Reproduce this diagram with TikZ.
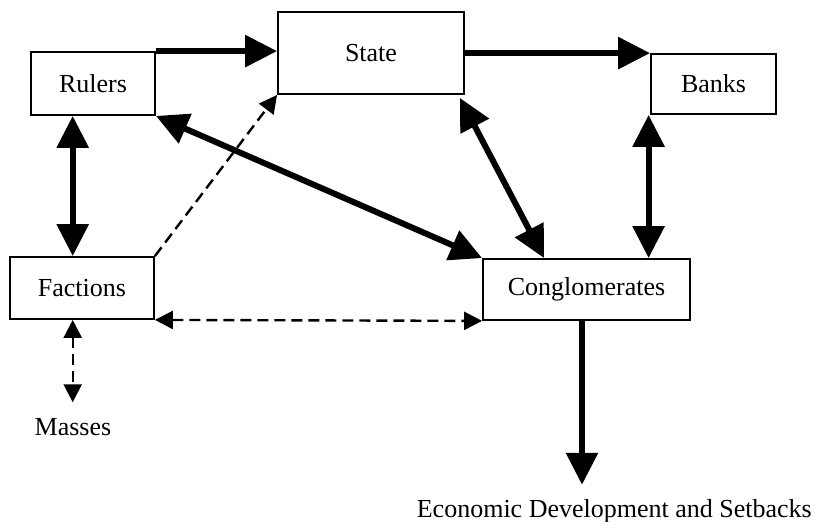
\documentclass[tikz,border=0pt]{standalone}
\usepackage{fontspec}
\setmainfont{Liberation Serif}
\usetikzlibrary{arrows.meta,calc}
\begin{document}
\begin{tikzpicture}[x=1pt,y=-1pt,
  box/.style={draw,line width=1.8pt,inner sep=0pt,font=\fontsize{26}{30}\selectfont},
  lbl/.style={inner xsep=0pt,font=\fontsize{26}{30}\selectfont},
  bigarrow/.style={line width=6pt,-{Triangle[length=32pt,width=31pt]}},
  bigboth/.style={line width=6pt,{Triangle[length=32pt,width=31pt]}-{Triangle[length=32pt,width=31pt]}},
  dasharrow/.style={line width=2.4pt,dash pattern=on 11pt off 6pt,-{Triangle[length=18pt,width=18pt]}},
  dashboth/.style={line width=2.4pt,dash pattern=on 11pt off 6pt,{Triangle[length=18pt,width=18pt]}-{Triangle[length=18pt,width=18pt]}}]
\useasboundingbox (0,0) rectangle (815,522);
\node[box,minimum width=124pt,minimum height=63pt] (rulers) at (93,83.5) {Rulers};
\node[box,minimum width=186pt,minimum height=82pt] (state) at (371,53) {State};
\node[box,minimum width=125pt,minimum height=60pt] (banks) at (713.5,84) {Banks};
\node[box,minimum width=144pt,minimum height=62pt] (factions) at (82,288) {Factions};
\node[box,minimum width=207pt,minimum height=61pt] (cong) at (586.5,289.5) {Conglomerates};
\node[lbl,inner ysep=15.5pt,anchor=base] (masses) at (73,435) {Masses};
\node[lbl,inner ysep=14pt,anchor=base east] (econ) at (812,517) {Economic Development and Setbacks};
\coordinate (ax) at (72.7,0);
\coordinate (ex) at (582,0);
% connectors
\draw[bigarrow] (rulers.north east) -- (rulers.north east -| state.west);
\draw[bigarrow] (banks.north west -| state.east) -- (banks.north west);
\draw[bigboth] (ax |- rulers.south) -- (ax |- factions.north);
\draw[bigboth] (rulers.south east) -- (cong.north west);
\draw[bigboth] ($(state.south east)+(-5,3)$) -- ($(cong.north west)+(62,0)$);
\draw[bigboth] ($(banks.south west)+(-1.5,0)$) -- ($(banks.south west |- cong.north)+(-1.5,0)$);
\draw[bigarrow] (ex |- cong.south) -- (ex |- econ.north);
\draw[dasharrow] (factions.north east) -- (state.south west);
\draw[dashboth] (factions.south east) -- (cong.south west);
\draw[dashboth] (ax |- factions.south) -- (ax |- masses.north);
\end{tikzpicture}
\end{document}
